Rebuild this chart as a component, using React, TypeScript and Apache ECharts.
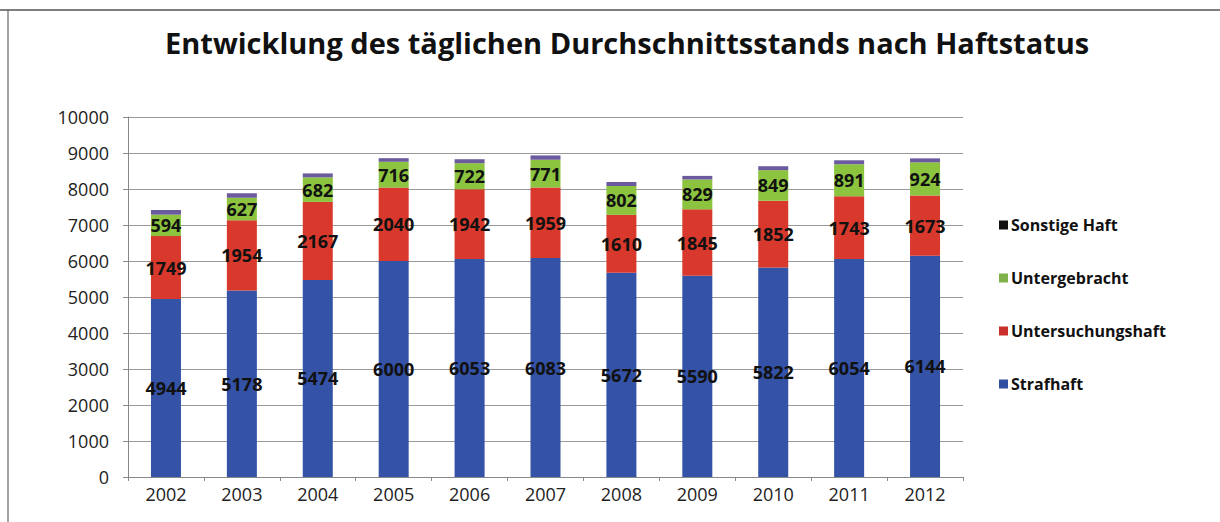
import React, { useEffect, useRef } from "react";
import * as echarts from "echarts";

const years = ["2002", "2003", "2004", "2005", "2006", "2007", "2008", "2009", "2010", "2011", "2012"];
const strafhaft = [4944, 5178, 5474, 6000, 6053, 6083, 5672, 5590, 5822, 6054, 6144];
const untersuchungshaft = [1749, 1954, 2167, 2040, 1942, 1959, 1610, 1845, 1852, 1743, 1673];
const untergebracht = [594, 627, 682, 716, 722, 771, 802, 829, 849, 891, 924];
const sonstigeHaft = [130, 120, 110, 100, 110, 120, 110, 100, 110, 110, 110];
const yTicks = [0, 1000, 2000, 3000, 4000, 5000, 6000, 7000, 8000, 9000, 10000];

const FONT = "'Open Sans', 'DejaVu Sans', sans-serif";

export default function App() {
  const ref = useRef<HTMLDivElement>(null);
  useEffect(() => {
    if (!ref.current) return;
    const chart = echarts.init(ref.current, undefined, { renderer: "svg" });
    const label = {
      show: true,
      position: "inside",
      color: "#111",
      fontFamily: FONT,
      fontWeight: "bold",
      fontSize: 18,
    };
    chart.setOption({
      animation: false,
      backgroundColor: "#fff",
      title: {
        text: "Entwicklung des täglichen Durchschnittsstands nach Haftstatus",
        left: 160,
        top: 23,
        textStyle: { fontFamily: FONT, fontWeight: "bold", fontSize: 29, color: "#111" },
      },
      legend: {
        orient: "vertical",
        left: 994,
        top: 212,
        itemGap: 37,
        itemWidth: 9,
        itemHeight: 9,
        icon: "rect",
        textStyle: { fontFamily: FONT, fontWeight: "bold", fontSize: 16, color: "#111", padding: [0, 0, 0, -2] },
        data: [
          { name: "Sonstige Haft", itemStyle: { color: "#111" } },
          { name: "Untergebracht", itemStyle: { color: "#7fb24a" } },
          { name: "Untersuchungshaft", itemStyle: { color: "#c9302c" } },
          { name: "Strafhaft", itemStyle: { color: "#2f4fa0" } },
        ],
      },
      grid: { left: 128, right: 257, top: 117, bottom: 45 },
      xAxis: {
        type: "category",
        data: years,
        axisLine: { lineStyle: { color: "#888" } },
        axisTick: { show: true, length: 4, lineStyle: { color: "#888" } },
        axisLabel: { fontFamily: FONT, fontSize: 18, color: "#222", margin: 8 },
      },
      yAxis: {
        type: "value",
        min: yTicks[0],
        max: yTicks[yTicks.length - 1],
        interval: 1000,
        axisLine: { show: true, lineStyle: { color: "#888" } },
        axisTick: { show: true, length: 5, lineStyle: { color: "#888" } },
        axisLabel: {
          fontFamily: FONT,
          fontSize: 18,
          color: "#222",
          margin: 19,
          formatter: (v: number) => String(v),
        },
        splitLine: { lineStyle: { color: "#999", width: 1 } },
      },
      series: [
        {
          name: "Strafhaft",
          type: "bar",
          stack: "total",
          data: strafhaft,
          barWidth: 30,
          itemStyle: { color: "#3452a6" },
          label,
        },
        {
          name: "Untersuchungshaft",
          type: "bar",
          stack: "total",
          data: untersuchungshaft,
          itemStyle: { color: "#d8392c" },
          label,
        },
        {
          name: "Untergebracht",
          type: "bar",
          stack: "total",
          data: untergebracht,
          itemStyle: { color: "#8cc43f" },
          label,
        },
        {
          name: "Sonstige Haft",
          type: "bar",
          stack: "total",
          data: sonstigeHaft,
          itemStyle: { color: "#6b5b9e" },
        },
      ],
      graphic: [
        { type: "line", shape: { x1: 0, y1: 10, x2: 1220, y2: 10 }, style: { stroke: "#555", lineWidth: 1.5 } },
        { type: "line", shape: { x1: 8, y1: 10, x2: 8, y2: 522 }, style: { stroke: "#666", lineWidth: 1.2 } },
      ],
    });
    return () => chart.dispose();
  }, []);
  return <div ref={ref} style={{ width: 1220, height: 522, position: "absolute", left: 0, top: 0 }} />;
}
